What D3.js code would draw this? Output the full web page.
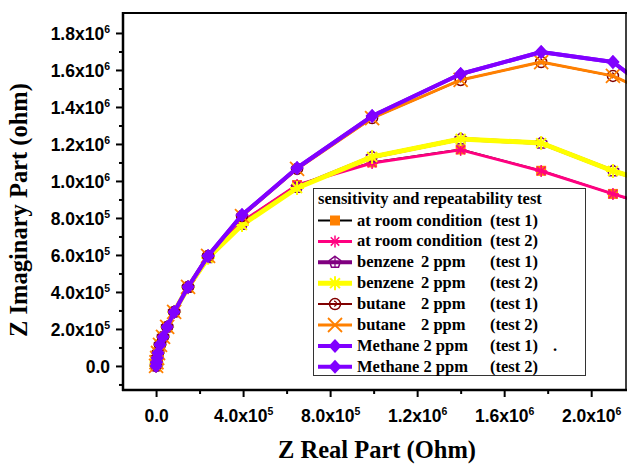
<!DOCTYPE html>
<html>
<head>
<meta charset="utf-8">
<script src="https://cdn.jsdelivr.net/npm/d3@7.9.0/dist/d3.min.js"></script>
<style>
  body { margin: 0; background: #fff; }
  svg { display: block; }
</style>
</head>
<body>
<svg id="chart" width="627" height="465"></svg>
<script>
// Data: [Z real, Z imaginary] in ohm
const roomTest1 = [[0,0],[2e3,2e4],[5e3,4.3e4],[9e3,7e4],[1.8e4,1.14e5],[3.2e4,1.57e5],[5.1e4,2.11e5],[8.3e4,2.92e5],[1.47e5,4.27e5],[2.39e5,5.9e5],[3.95e5,7.8e5],[6.48e5,9.78e5],[9.93e5,1.10e6],[1.40e6,1.17e6],[1.77e6,1.055e6],[2.10e6,9.3e5],[2.45e6,8.0e5]];
const roomTest2 = [[0,0],[2e3,2e4],[5e3,4.3e4],[9e3,7e4],[1.8e4,1.14e5],[3.2e4,1.57e5],[5.1e4,2.11e5],[8.3e4,2.92e5],[1.47e5,4.27e5],[2.39e5,5.9e5],[3.95e5,7.8e5],[6.48e5,9.78e5],[9.93e5,1.097e6],[1.40e6,1.168e6],[1.77e6,1.054e6],[2.10e6,9.3e5],[2.45e6,8.05e5]];
const benzeneTest1 = [[0,0],[2e3,2e4],[5e3,4.3e4],[9e3,7e4],[1.8e4,1.14e5],[3.2e4,1.57e5],[5.1e4,2.11e5],[8.3e4,2.92e5],[1.47e5,4.25e5],[2.39e5,5.85e5],[3.95e5,7.65e5],[6.48e5,9.65e5],[9.93e5,1.13e6],[1.40e6,1.227e6],[1.77e6,1.205e6],[2.10e6,1.054e6],[2.45e6,9.3e5]];
const benzeneTest2 = [[0,0],[2e3,2e4],[5e3,4.3e4],[9e3,7e4],[1.8e4,1.14e5],[3.2e4,1.57e5],[5.1e4,2.11e5],[8.3e4,2.92e5],[1.47e5,4.25e5],[2.39e5,5.85e5],[3.95e5,7.62e5],[6.48e5,9.62e5],[9.93e5,1.13e6],[1.40e6,1.227e6],[1.77e6,1.205e6],[2.10e6,1.054e6],[2.45e6,9.3e5]];
const butaneTest1 = [[0,0],[2e3,2e4],[5e3,4.3e4],[9e3,7e4],[1.8e4,1.14e5],[3.2e4,1.57e5],[5.1e4,2.11e5],[8.3e4,2.92e5],[1.47e5,4.27e5],[2.39e5,5.95e5],[3.95e5,8.1e5],[6.48e5,1.065e6],[9.93e5,1.34e6],[1.40e6,1.546e6],[1.77e6,1.643e6],[2.10e6,1.568e6],[2.45e6,1.38e6]];
const butaneTest2 = [[0,0],[2e3,2e4],[5e3,4.3e4],[9e3,7e4],[1.8e4,1.14e5],[3.2e4,1.57e5],[5.1e4,2.11e5],[8.3e4,2.92e5],[1.47e5,4.27e5],[2.39e5,5.95e5],[3.95e5,8.1e5],[6.48e5,1.065e6],[9.93e5,1.34e6],[1.40e6,1.546e6],[1.77e6,1.643e6],[2.10e6,1.568e6],[2.45e6,1.38e6]];
const methaneTest1 = [[0,0],[2e3,2e4],[5e3,4.3e4],[9e3,7e4],[1.8e4,1.14e5],[3.2e4,1.57e5],[5.1e4,2.11e5],[8.3e4,2.92e5],[1.47e5,4.27e5],[2.39e5,5.95e5],[3.95e5,8.16e5],[6.48e5,1.07e6],[9.93e5,1.351e6],[1.40e6,1.578e6],[1.77e6,1.697e6],[2.10e6,1.643e6],[2.45e6,1.33e6]];
const methaneTest2 = [[0,0],[2e3,2e4],[5e3,4.3e4],[9e3,7e4],[1.8e4,1.14e5],[3.2e4,1.57e5],[5.1e4,2.11e5],[8.3e4,2.92e5],[1.47e5,4.27e5],[2.39e5,5.95e5],[3.95e5,8.16e5],[6.48e5,1.07e6],[9.93e5,1.351e6],[1.40e6,1.578e6],[1.77e6,1.697e6],[2.10e6,1.643e6],[2.45e6,1.33e6]];

// Legend labels: name, "2 ppm" column, test column
const legendNames = ["at room condition", "at room condition", "benzene", "benzene", "butane", "butane", "Methane 2 ppm", "Methane 2 ppm"];
const legendPpm = ["", "", "2 ppm", "2 ppm", "2 ppm", "2 ppm", "", ""];
const legendTests = ["(test 1)", "(test 2)", "(test 1)", "(test 2)", "(test 1)", "(test 2)", "(test 1)", "(test 2)"];
const legendTitle = "sensitivity and repeatability test";

// Axis ticks
const xTicks = [0, 4e5, 8e5, 1.2e6, 1.6e6, 2.0e6];
const xTickMant = ["0.0", "4.0x10", "8.0x10", "1.2x10", "1.6x10", "2.0x10"];
const xTickExp = ["", "5", "5", "6", "6", "6"];
const yTicks = [0, 2e5, 4e5, 6e5, 8e5, 1.0e6, 1.2e6, 1.4e6, 1.6e6, 1.8e6];
const yTickMant = ["0.0", "2.0x10", "4.0x10", "6.0x10", "8.0x10", "1.0x10", "1.2x10", "1.4x10", "1.6x10", "1.8x10"];
const yTickExp = ["", "5", "5", "5", "5", "6", "6", "6", "6", "6"];

const series = [
  { data: roomTest1,    line: "#000000", lw: 2,   marker: "square",   mc: "#FF8000" },
  { data: roomTest2,    line: "#FF0080", lw: 3,   marker: "asterisk", mc: "#FF0080" },
  { data: benzeneTest1, line: "#800080", lw: 4,   marker: "pentagon", mc: "#800080" },
  { data: benzeneTest2, line: "#FFFF00", lw: 5,   marker: "star",     mc: "#FFFF00" },
  { data: butaneTest1,  line: "#800000", lw: 2,   marker: "circle",   mc: "#800000" },
  { data: butaneTest2,  line: "#FF8000", lw: 3,   marker: "cross",    mc: "#FF8000" },
  { data: methaneTest1, line: "#8000FF", lw: 4,   marker: "diamond",  mc: "#8000FF" },
  { data: methaneTest2, line: "#8000FF", lw: 4,   marker: "diamond",  mc: "#8000FF" }
];

const svg = d3.select("#chart");
const plotL = 123, plotR = 626, plotT = 13, plotB = 390;

const x = d3.scaleLinear().domain([-1.52e5, 2.16e6]).range([plotL, plotR]);
const y = d3.scaleLinear().domain([-1.3e5, 1.908e6]).range([plotB, plotT]);

const tickFont = "'Liberation Sans', Arial, sans-serif";
const serif = "'Liberation Serif', 'Times New Roman', serif";

// minor ticks halfway between majors
const xMinor = d3.range(2e5, 2.16e6, 4e5);
const yMinor = [-1e5].concat(d3.range(1e5, 1.9e6, 2e5));

svg.append("g")
  .attr("transform", `translate(0,${plotB})`)
  .call(d3.axisBottom(x).tickValues(xMinor).tickSize(4).tickFormat(""))
  .call(g => g.select(".domain").remove())
  .call(g => g.selectAll("line").attr("stroke-width", 2));

svg.append("g")
  .attr("transform", `translate(${plotL},0)`)
  .call(d3.axisLeft(y).tickValues(yMinor).tickSize(4).tickFormat(""))
  .call(g => g.select(".domain").remove())
  .call(g => g.selectAll("line").attr("stroke-width", 2));

const xAxis = svg.append("g")
  .attr("transform", `translate(0,${plotB})`)
  .call(d3.axisBottom(x).tickValues(xTicks).tickSize(7).tickPadding(13).tickFormat(""))
  .call(g => g.select(".domain").remove())
  .call(g => g.selectAll("line").attr("stroke-width", 2));

xAxis.selectAll(".tick text").each(function(d, i) {
  const t = d3.select(this)
    .attr("font-family", tickFont).attr("font-weight", "bold")
    .attr("font-size", 17.5).attr("fill", "#000")
    .attr("dy", "0.71em");
  t.append("tspan").text(xTickMant[i]);
  if (xTickExp[i]) t.append("tspan").attr("dy", -7).attr("font-size", 10.5).text(xTickExp[i]);
});

const yAxis = svg.append("g")
  .attr("transform", `translate(${plotL},0)`)
  .call(d3.axisLeft(y).tickValues(yTicks).tickSize(7).tickPadding(6).tickFormat(""))
  .call(g => g.select(".domain").remove())
  .call(g => g.selectAll("line").attr("stroke-width", 2));

yAxis.selectAll(".tick text").each(function(d, i) {
  const t = d3.select(this)
    .attr("font-family", tickFont).attr("font-weight", "bold")
    .attr("font-size", 17.5).attr("fill", "#000")
    .attr("dy", "0.38em");
  t.append("tspan").text(yTickMant[i]);
  if (yTickExp[i]) t.append("tspan").attr("dy", -7).attr("font-size", 10.5).text(yTickExp[i]);
});

// marker drawing
function drawMarker(g, type, color) {
  if (type === "square") {
    g.append("rect").attr("x", -5).attr("y", -5).attr("width", 10).attr("height", 10).attr("fill", color);
  } else if (type === "asterisk" || type === "star") {
    const r = type === "star" ? 7 : 6;
    [0, 45, 90, 135].forEach(a => {
      const rad = a * Math.PI / 180;
      g.append("line")
        .attr("x1", -r * Math.cos(rad)).attr("y1", -r * Math.sin(rad))
        .attr("x2", r * Math.cos(rad)).attr("y2", r * Math.sin(rad))
        .attr("stroke", color).attr("stroke-width", type === "star" ? 2 : 1.5);
    });
  } else if (type === "pentagon") {
    const pts = d3.range(5).map(k => {
      const a = -Math.PI / 2 + k * 2 * Math.PI / 5;
      return [6 * Math.cos(a), 6 * Math.sin(a)];
    });
    g.append("polygon").attr("points", pts.map(p => p.join(",")).join(" "))
      .attr("fill", "none").attr("stroke", color).attr("stroke-width", 1.5);
    g.append("line").attr("x1", -5).attr("x2", 5).attr("y1", 0).attr("y2", 0).attr("stroke", color).attr("stroke-width", 1.2);
    g.append("line").attr("x1", 0).attr("x2", 0).attr("y1", -6).attr("y2", 5).attr("stroke", color).attr("stroke-width", 1.2);
  } else if (type === "circle") {
    g.append("circle").attr("r", 5.5).attr("fill", "none").attr("stroke", color).attr("stroke-width", 1.5);
    g.append("path").attr("d", "M-1,-3 A2.5,2.5 0 1 1 -1,2").attr("fill", "none").attr("stroke", color).attr("stroke-width", 1.2);
  } else if (type === "cross") {
    g.append("line").attr("x1", -7).attr("y1", -7).attr("x2", 7).attr("y2", 7).attr("stroke", color).attr("stroke-width", 1.8);
    g.append("line").attr("x1", -7).attr("y1", 7).attr("x2", 7).attr("y2", -7).attr("stroke", color).attr("stroke-width", 1.8);
  } else if (type === "diamond") {
    g.append("polygon").attr("points", "0,-7 6.5,0 0,7 -6.5,0").attr("fill", color);
  }
}

const line = d3.line().x(d => x(d[0])).y(d => y(d[1]));

// draw series in legend order, later ones on top
series.forEach(s => {
  const g = svg.append("g");
  g.append("path").datum(s.data)
    .attr("d", line).attr("fill", "none")
    .attr("stroke", s.line).attr("stroke-width", s.lw)
    .attr("stroke-linejoin", "round");
  g.selectAll(".pt").data(s.data).join("g")
    .attr("class", "pt")
    .attr("transform", d => `translate(${x(d[0])},${y(d[1])})`)
    .each(function() { drawMarker(d3.select(this), s.marker, s.mc); });
});

// frame
svg.append("line").attr("x1", plotL).attr("x2", plotL).attr("y1", plotT - 1).attr("y2", plotB + 1).attr("stroke", "#000").attr("stroke-width", 2.5);
svg.append("line").attr("x1", plotL - 1).attr("x2", plotR + 1).attr("y1", plotB).attr("y2", plotB).attr("stroke", "#000").attr("stroke-width", 2.5);
svg.append("line").attr("x1", plotL - 1).attr("x2", plotR + 1).attr("y1", plotT).attr("y2", plotT).attr("stroke", "#000").attr("stroke-width", 2);
svg.append("line").attr("x1", plotR).attr("x2", plotR).attr("y1", plotT).attr("y2", plotB).attr("stroke", "#000").attr("stroke-width", 1.5);

// legend
const lg = svg.append("g");
lg.append("rect").attr("x", 313.5).attr("y", 188.5).attr("width", 272).attr("height", 187)
  .attr("fill", "#fff").attr("stroke", "#333").attr("stroke-width", 1);
lg.append("text").attr("x", 318).attr("y", 204)
  .attr("font-family", serif).attr("font-weight", "bold").attr("font-size", 16.5)
  .text(legendTitle);

series.forEach((s, i) => {
  const cy = 220.5 + i * 20.9;
  lg.append("line").attr("x1", 318).attr("x2", 352).attr("y1", cy).attr("y2", cy)
    .attr("stroke", s.line).attr("stroke-width", s.lw);
  drawMarker(lg.append("g").attr("transform", `translate(335,${cy})`), s.marker, s.mc);
  const txt = (xx, str) => lg.append("text").attr("x", xx).attr("y", cy + 5)
    .attr("font-family", serif).attr("font-weight", "bold").attr("font-size", 16.5)
    .text(str);
  txt(357, legendNames[i]);
  if (legendPpm[i]) txt(421, legendPpm[i]);
  txt(490, legendTests[i]);
  if (i === 6) txt(553, ".");
});

// axis titles
svg.append("text")
  .attr("transform", `translate(27,210) rotate(-90)`)
  .attr("text-anchor", "middle")
  .attr("font-family", serif).attr("font-weight", "bold").attr("font-size", 24.5)
  .text("Z Imaginary Part (ohm)");

svg.append("text")
  .attr("x", 377).attr("y", 458)
  .attr("text-anchor", "middle")
  .attr("font-family", serif).attr("font-weight", "bold").attr("font-size", 24.5)
  .text("Z Real Part (Ohm)");
</script>
</body>
</html>
